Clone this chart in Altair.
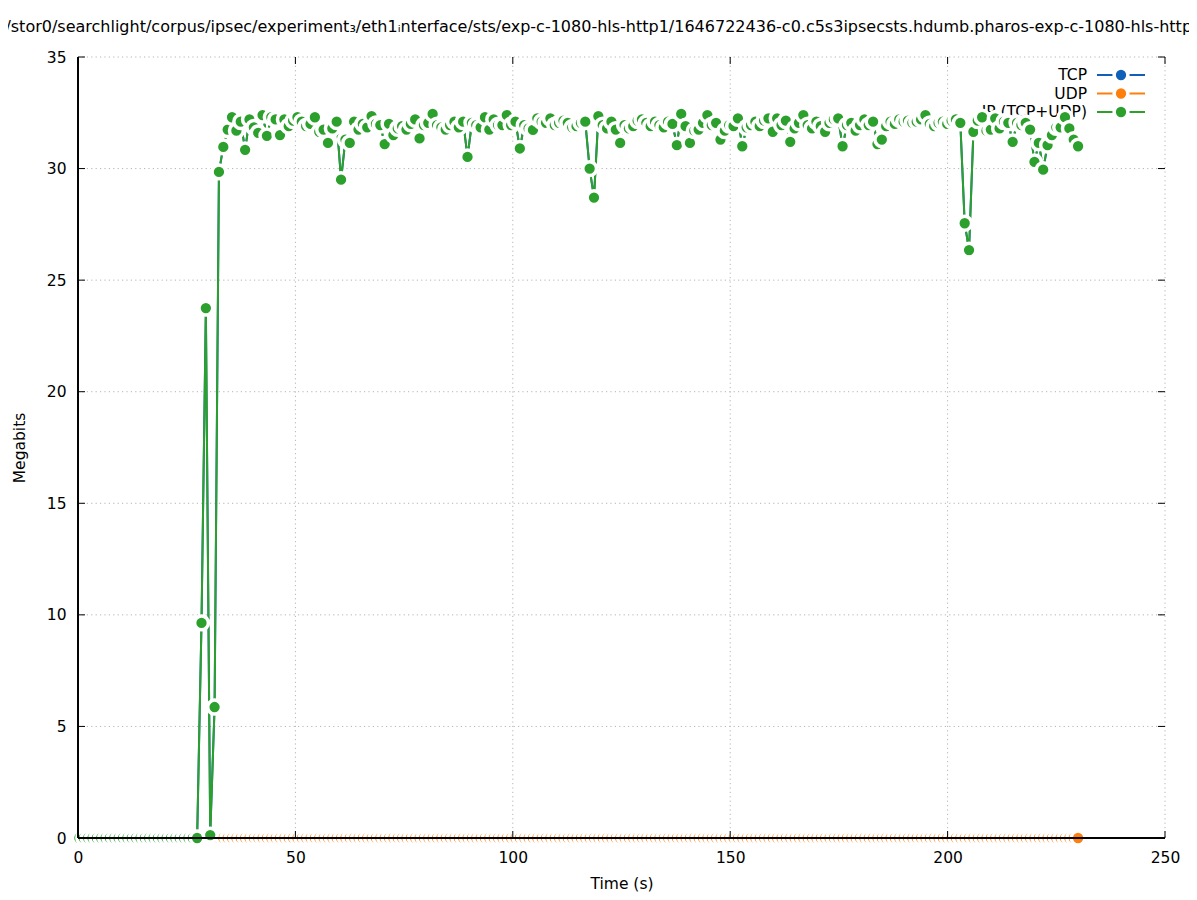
import altair as alt
import pandas as pd

# ---------------- data ----------------
title_text = ("/mnt/stor0/searchlight/corpus/ipsec/experiment\u2083/eth1\u1d62nterface/sts/"
              "exp-c-1080-hls-http1/1646722436-c0.c5s3ipsecsts.hdumb.pharos-exp-c-1080-hls-http1")

series_names = ["TCP", "UDP", "IP (TCP+UDP)"]
series_colors = ["#1060b8", "#ff7f0e", "#2ca02c"]

# sample times (s): one sample per ~1.003 s
t_start = 0.32
t_step = 1.003
n_samples = 230
times = [round(t_start + t_step * j, 3) for j in range(n_samples)]

ip_active = [
    0, 9.64, 23.75, 0.13, 5.87, 29.85, 30.97, 31.75, 32.3, 31.7,
    32.1, 30.84, 32.2, 31.85, 31.6, 32.4, 31.47, 32.3, 32.2, 31.5,
    32.2, 31.9, 32.15, 32.3, 32.1, 31.9, 32.0, 32.3, 31.65, 31.75,
    31.15, 31.8, 32.1, 29.5, 31.3, 31.15, 32.1, 31.75, 32.0, 31.85,
    32.35, 32.0, 31.95, 31.1, 32.0, 31.5, 31.8, 31.9, 31.75, 32.0,
    32.2, 31.35, 31.95, 32.05, 32.45, 31.95, 31.85, 31.75, 31.95, 32.1,
    31.85, 32.1, 30.52, 32.05, 31.95, 31.85, 32.3, 31.75, 32.2, 31.95,
    31.95, 32.4, 31.95, 32.1, 30.9, 31.95, 31.8, 31.73, 32.25, 32.1,
    32.05, 32.25, 31.95, 32.05, 32.15, 32.05, 31.85, 31.9, 32.05, 32.1,
    30.0, 28.7, 32.35, 31.95, 31.8, 32.1, 31.75, 31.15, 31.95, 31.8,
    31.9, 32.15, 32.2, 32.05, 31.9, 32.1, 31.95, 31.85, 32.1, 32.0,
    31.05, 32.45, 31.9, 31.15, 31.7, 31.75, 32.05, 32.4, 31.95, 32.05,
    31.3, 31.7, 31.95, 31.9, 32.25, 31.0, 31.85, 31.95, 32.1, 31.9,
    32.15, 32.25, 31.65, 32.25, 31.95, 32.15, 31.2, 31.8, 32.05, 32.4,
    31.95, 31.8, 32.1, 31.9, 31.65, 32.05, 32.2, 32.25, 31.0, 31.95,
    32.05, 31.7, 31.95, 32.2, 31.95, 32.1, 31.1, 31.3, 31.9, 32.1,
    32.0, 32.2, 32.1, 32.15, 32.05, 32.1, 32.2, 32.4, 32.0, 31.9,
    32.05, 32.1, 32.0, 32.15, 32.2, 32.05, 27.55, 26.35, 31.65, 32.15,
    32.3, 31.7, 31.75, 32.25, 31.8, 32.1, 32.05, 31.2, 32.05, 31.95,
    32.05, 31.75, 30.3, 31.15, 29.95, 31.05, 31.5, 31.85, 31.85, 32.3,
    31.8, 31.3, 31.0,
]
ip_mbits = [0.0] * (n_samples - len(ip_active)) + ip_active
tcp_mbits = list(ip_mbits)          # all traffic is TCP (hidden under IP)
udp_mbits = [0.0] * n_samples

x_ticks = [0, 50, 100, 150, 200, 250]
y_ticks = [0, 5, 10, 15, 20, 25, 30, 35]

# ---------------- layout ----------------
W, H = 1087, 781
FONT = "DejaVu Sans"
FS = 15.5
TICK = 7
PT_SIZE = 190
PT_STROKE = 3.5

xs = alt.Scale(domain=[0, 250], nice=False, zero=False)
ys = alt.Scale(domain=[0, 35], nice=False, zero=False)

xt_df = pd.DataFrame({"v": x_ticks})
yt_df = pd.DataFrame({"v": y_ticks})

grid_style = dict(color="#b4b4b4", strokeDash=[1.2, 3.2], strokeWidth=1)

x_axis = alt.Axis(values=x_ticks, title="Time (s)", grid=False, domain=False, ticks=False,
                  labelFlush=False, labelPadding=12, titleX=W / 2, titleY=45,
                  titleBaseline="middle")
y_axis = alt.Axis(values=y_ticks, title="Megabits", grid=False, domain=False, ticks=False,
                  labelPadding=12, titleX=-59, titleY=H / 2, titleAngle=270,
                  titleAlign="center", titleBaseline="middle")

grid_x = alt.Chart(xt_df).mark_rule(**grid_style).encode(
    x=alt.X("v:Q", scale=xs, axis=x_axis), y=alt.value(0), y2=alt.value(H))
grid_y = alt.Chart(yt_df).mark_rule(**grid_style).encode(
    y=alt.Y("v:Q", scale=ys, axis=y_axis), x=alt.value(0), x2=alt.value(W))

title_layer = alt.Chart(pd.DataFrame({"s": [title_text]})).mark_text(
    align="left", baseline="middle", font=FONT, fontSize=16, color="black"
).encode(text="s:N", x=alt.value(-110), y=alt.value(-30))


def series_layers(vals, color, name, ly):
    df = pd.DataFrame({"t": times, "v": vals})
    line = alt.Chart(df).mark_line(color=color, strokeWidth=2).encode(
        x=alt.X("t:Q", scale=xs), y=alt.Y("v:Q", scale=ys), order="t:Q")
    pts = alt.Chart(df).mark_point(filled=True, shape="circle", size=PT_SIZE, fill=color,
                                   stroke="white", strokeWidth=PT_STROKE, opacity=1).encode(
        x=alt.X("t:Q", scale=xs), y=alt.Y("v:Q", scale=ys))
    ldf = pd.DataFrame({"s": [name]})
    ltext = alt.Chart(ldf).mark_text(align="right", baseline="middle", font=FONT,
                                     fontSize=FS, color="black").encode(
        text="s:N", x=alt.value(1009), y=alt.value(ly))
    lline = alt.Chart(ldf).mark_rule(color=color, strokeWidth=2).encode(
        x=alt.value(1019), x2=alt.value(1067), y=alt.value(ly))
    lpt = alt.Chart(ldf).mark_point(filled=True, shape="circle", size=PT_SIZE, fill=color,
                                    stroke="white", strokeWidth=PT_STROKE, opacity=1).encode(
        x=alt.value(1043), y=alt.value(ly))
    return [ltext, lline, lpt, line, pts]


layers = [grid_x, grid_y, title_layer]
for vals, color, name, ly in zip([tcp_mbits, udp_mbits, ip_mbits], series_colors,
                                 series_names, [18, 36.5, 55]):
    layers += series_layers(vals, color, name, ly)

# border (left + bottom) and mirrored inward ticks
border_l = alt.Chart(xt_df).mark_rule(color="black", strokeWidth=1).encode(
    x=alt.value(0), y=alt.value(0), y2=alt.value(H))
border_b = alt.Chart(xt_df).mark_rule(color="black", strokeWidth=1).encode(
    x=alt.value(0), x2=alt.value(W), y=alt.value(H))
tick_b = alt.Chart(xt_df).mark_rule(color="black").encode(
    x=alt.X("v:Q", scale=xs), y=alt.value(H), y2=alt.value(H - TICK))
tick_t = alt.Chart(xt_df).mark_rule(color="black").encode(
    x=alt.X("v:Q", scale=xs), y=alt.value(0), y2=alt.value(TICK))
tick_l = alt.Chart(yt_df).mark_rule(color="black").encode(
    y=alt.Y("v:Q", scale=ys), x=alt.value(0), x2=alt.value(TICK))
tick_r = alt.Chart(yt_df).mark_rule(color="black").encode(
    y=alt.Y("v:Q", scale=ys), x=alt.value(W), x2=alt.value(W - TICK))
layers += [border_l, border_b, tick_b, tick_t, tick_l, tick_r]

chart = alt.layer(*layers).properties(
    width=W, height=H,
    autosize=alt.AutoSizeParams(type="none"),
    padding={"left": 70, "top": 49, "right": 24, "bottom": 54},
).configure_view(stroke=None).configure_axis(
    labelFont=FONT, labelFontSize=FS, labelColor="black",
    titleFont=FONT, titleFontSize=FS, titleFontWeight="normal", titleColor="black",
)

chart.save("out.html", embed_options={"renderer": "svg", "actions": False})
